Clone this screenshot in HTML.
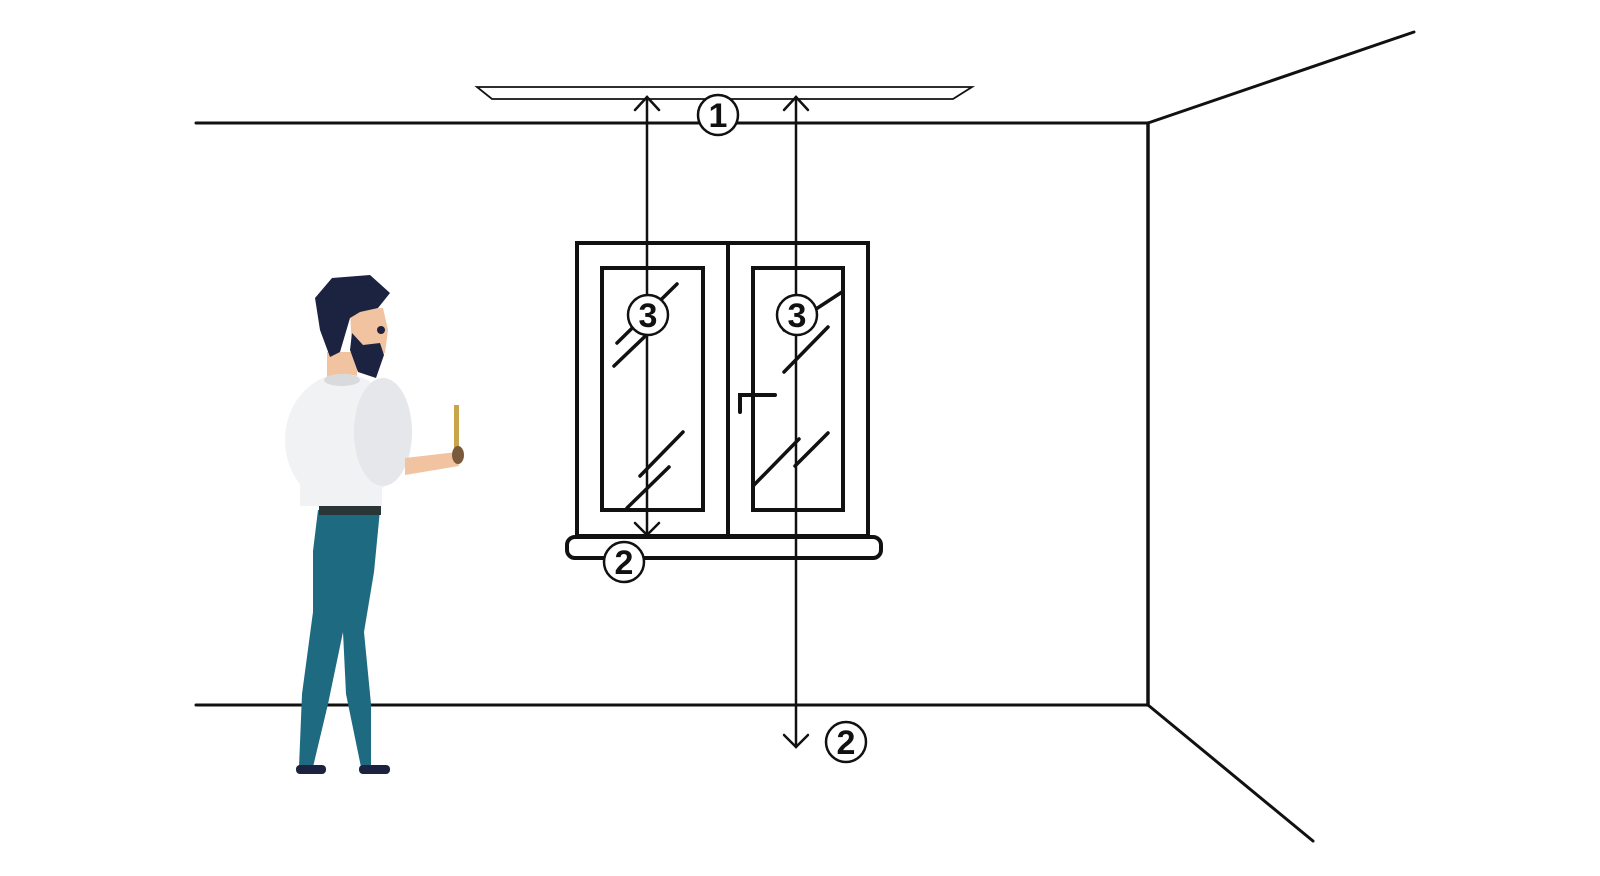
<!DOCTYPE html>
<html><head><meta charset="utf-8"><style>html,body{margin:0;padding:0;background:#fff;width:1600px;height:876px;overflow:hidden}</style></head>
<body>
<svg width="1600" height="876" viewBox="0 0 1600 876" xmlns="http://www.w3.org/2000/svg">
<g stroke="#111" fill="none" stroke-linecap="round">
<polygon points="477,87 972,87 953,99 492,99" stroke-width="1.8"/>
<line x1="196" y1="123" x2="1148" y2="123" stroke-width="3"/>
<line x1="196" y1="705" x2="1148" y2="705" stroke-width="3"/>
<line x1="1148" y1="123" x2="1148" y2="705" stroke-width="3.5"/>
<line x1="1148" y1="123" x2="1414" y2="32" stroke-width="3"/>
<line x1="1148" y1="705" x2="1313" y2="841" stroke-width="3"/>
<rect x="577" y="243" width="291" height="293" stroke-width="4"/>
<line x1="728" y1="243" x2="728" y2="536" stroke-width="4"/>
<rect x="602" y="268" width="101" height="242" stroke-width="4"/>
<rect x="753" y="268" width="90" height="242" stroke-width="4"/>
<rect x="567" y="537" width="314" height="21" rx="8" stroke-width="4"/>
<path d="M740,412 L740,395 L775,395" stroke-width="4"/>
<g stroke-width="3.5">
<line x1="617" y1="343" x2="677" y2="284"/>
<line x1="614" y1="366" x2="660" y2="322"/>
<line x1="640" y1="476" x2="683" y2="432"/>
<line x1="627" y1="508" x2="669" y2="467"/>
<line x1="784" y1="330" x2="842" y2="292"/>
<line x1="784" y1="372" x2="828" y2="327"/>
<line x1="754" y1="485" x2="799" y2="439"/>
<line x1="795" y1="466" x2="828" y2="433"/>
</g>
<line x1="647" y1="97" x2="647" y2="535" stroke-width="2.5"/>
<line x1="796" y1="97" x2="796" y2="747" stroke-width="2.5"/>
<polyline points="635,110 647,97 659,110" stroke-width="2.5"/>
<polyline points="784,110 796,97 808,110" stroke-width="2.5"/>
<polyline points="635,523 647,535 659,523" stroke-width="2.5"/>
<polyline points="784,735 796,747 808,735" stroke-width="2.5"/>
</g>
<g font-family="Liberation Sans, sans-serif" font-size="34" font-weight="bold" text-anchor="middle" fill="#111">
<circle cx="718" cy="115" r="20" fill="#fff" stroke="#111" stroke-width="2.5"/><text x="718" y="127">1</text>
<circle cx="648" cy="315" r="20" fill="#fff" stroke="#111" stroke-width="2.5"/><text x="648" y="327">3</text>
<circle cx="797" cy="315" r="20" fill="#fff" stroke="#111" stroke-width="2.5"/><text x="797" y="327">3</text>
<circle cx="624" cy="562" r="20" fill="#fff" stroke="#111" stroke-width="2.5"/><text x="624" y="574">2</text>
<circle cx="846" cy="742" r="20" fill="#fff" stroke="#111" stroke-width="2.5"/><text x="846" y="754">2</text>
</g>
<g>
<polygon points="318,510 380,510 374,572 364,632 371,704 371,767 361,767 346,694 343,632 328,704 313,767 299,767 302,694 313,612 313,551" fill="#1e6a80"/>
<rect x="296" y="765" width="30" height="9" rx="4" fill="#1c2340"/>
<rect x="359" y="765" width="31" height="9" rx="4" fill="#1c2340"/>
<rect x="319" y="503" width="62" height="12" fill="#2a3535"/>
<rect x="327" y="352" width="30" height="28" fill="#f2c3a0"/>
<ellipse cx="343" cy="440" rx="58" ry="66" fill="#f1f2f4"/>
<rect x="300" y="440" width="82" height="66" fill="#f1f2f4"/>
<ellipse cx="383" cy="432" rx="29" ry="54" fill="#e6e7ea"/>
<ellipse cx="342" cy="380" rx="18" ry="6" fill="#d8dadc"/>
<polygon points="405,458 457,452 459,466 405,475" fill="#f2c3a0"/>
<rect x="454" y="405" width="5" height="45" fill="#c8a54a"/>
<ellipse cx="458" cy="455" rx="6" ry="9" fill="#7a5a3a"/>
<polygon points="350,310 383,308 388,330 385,353 352,353" fill="#f2c3a0"/>
<polygon points="315,298 332,278 370,275 390,293 378,308 360,312 350,318 345,335 340,352 330,357 320,330" fill="#1c2340"/>
<polygon points="352,333 363,345 380,343 384,355 376,378 358,372 350,350" fill="#1c2340"/>
<circle cx="381" cy="330" r="4" fill="#1c2340"/>
</g>
</svg>
</body></html>
